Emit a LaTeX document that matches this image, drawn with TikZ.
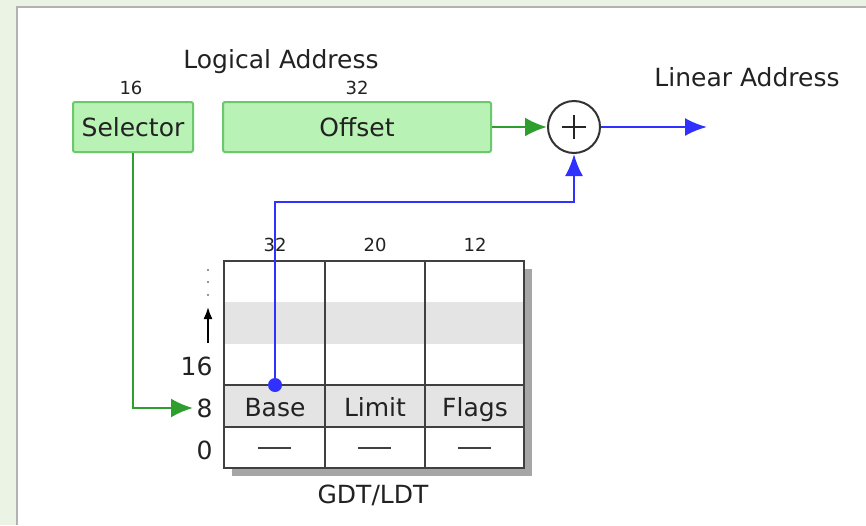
\documentclass[tikz,border=0pt]{standalone}
\usepackage{fontspec}
\setmainfont{DejaVu Sans}
\usetikzlibrary{arrows.meta}
\definecolor{bggreen}{HTML}{EBF3E4}
\definecolor{boxfill}{HTML}{B8F2B4}
\definecolor{boxdraw}{HTML}{6CC86C}
\definecolor{arrgreen}{HTML}{2E9E2E}
\definecolor{arrblue}{HTML}{3030FF}
\definecolor{band}{HTML}{E4E4E4}
\definecolor{tline}{HTML}{404040}
\definecolor{txt}{HTML}{222222}
\tikzset{
  big/.style={font=\fontsize{25}{30}\selectfont, text=txt},
  small/.style={font=\fontsize{18}{20}\selectfont, text=txt},
  fieldbox/.style={draw=boxdraw, fill=boxfill, rounded corners=2pt, line width=2pt, inner sep=0pt, minimum height=50pt, big},
  greenarrow/.style={draw=arrgreen, line width=2.5pt, -{Latex[length=22pt,width=19pt]}},
  bluearrow/.style={draw=arrblue, line width=2.5pt, -{Latex[length=22pt,width=18pt]}},
  tgrid/.style={draw=tline, line width=2.5pt},
}
\begin{document}
\begin{tikzpicture}[x=1pt,y=-1pt]
\useasboundingbox (0,0) rectangle (866,525);
% background
\fill[bggreen] (0,0) rectangle (866,525);
\fill[white] (17,7) rectangle (866,525);
\draw[black!30, line width=1.5pt] (17,525) -- (17,7) -- (866,7);

% logical address fields
\node[big] (logical) at (281,62) {Logical Address};
\node[small] (n16) at (131,88) {16};
\node[small] (n32) at (357,88) {32};
\node[fieldbox, minimum width=120pt] (sel) at (133,127) {Selector};
\node[fieldbox, minimum width=268pt] (off) at (357,127) {Offset};

% adder
\node[circle, draw=black!80, line width=2pt, minimum size=52pt, inner sep=0pt, fill=white] (plus) at (574,127) {};
\draw[black!85, line width=1.8pt] ([xshift=-12pt]plus.center) -- ([xshift=12pt]plus.center);
\draw[black!85, line width=1.8pt] ([yshift=-12pt]plus.center) -- ([yshift=12pt]plus.center);
\coordinate (out) at (707,127);
\node[big] (linear) at (747,77) {Linear Address};

% table shadow and body
\fill[black!35] (232,269) rectangle (532,476);
\fill[white] (224,261) rectangle (524,468);
\fill[band] (224,302) rectangle (524,344);
\fill[band] (224,385) rectangle (524,427);
\draw[tgrid] (224,261) rectangle (524,468);
\draw[tgrid] (325,261) -- (325,468);
\draw[tgrid] (425,261) -- (425,468);
\draw[tgrid] (224,385) -- (524,385);
\draw[tgrid] (224,427) -- (524,427);

% column headers
\node[small] (h32) at (275,245) {32};
\node[small] (h20) at (375,245) {20};
\node[small] (h12) at (475,245) {12};

% cells
\node[big, anchor=base] (base) at (275,416) {Base};
\node[big, anchor=base] (limit) at (375,416) {Limit};
\node[big, anchor=base] (flags) at (475,416) {Flags};
\draw[tline, line width=2pt] (258,448) -- (291,448);
\draw[tline, line width=2pt] (358,448) -- (391,448);
\draw[tline, line width=2pt] (458,448) -- (491,448);

% row labels
\node[big, anchor=east] (l16) at (216,366) {16};
\node[big, anchor=east] (l8) at (216,408) {8};
\node[big, anchor=east] (l0) at (216,450) {0};
\coordinate (upS) at (208,343);
\coordinate (upE) at (208,307);
\draw[black, line width=1.8pt, -{Latex[length=12pt,width=9pt]}] (upS) -- (upE);
\fill[black!55] (208,270) circle (1.2pt);
\fill[black!55] (208,282) circle (1.2pt);
\fill[black!55] (208,295) circle (1.2pt);
\node[big] (gdt) at (373,495) {GDT/LDT};

% connectors
\coordinate (bdot) at (275,385);
\draw[bluearrow] (bdot) -- (275,202) -| (plus.south);
\fill[arrblue] (bdot) circle (7pt);
\draw[greenarrow] (off.east) -- (plus.west);
\draw[bluearrow] (plus.east) -- (out);
\draw[greenarrow] (sel.south) |- (l8.west);
\end{tikzpicture}
\end{document}
